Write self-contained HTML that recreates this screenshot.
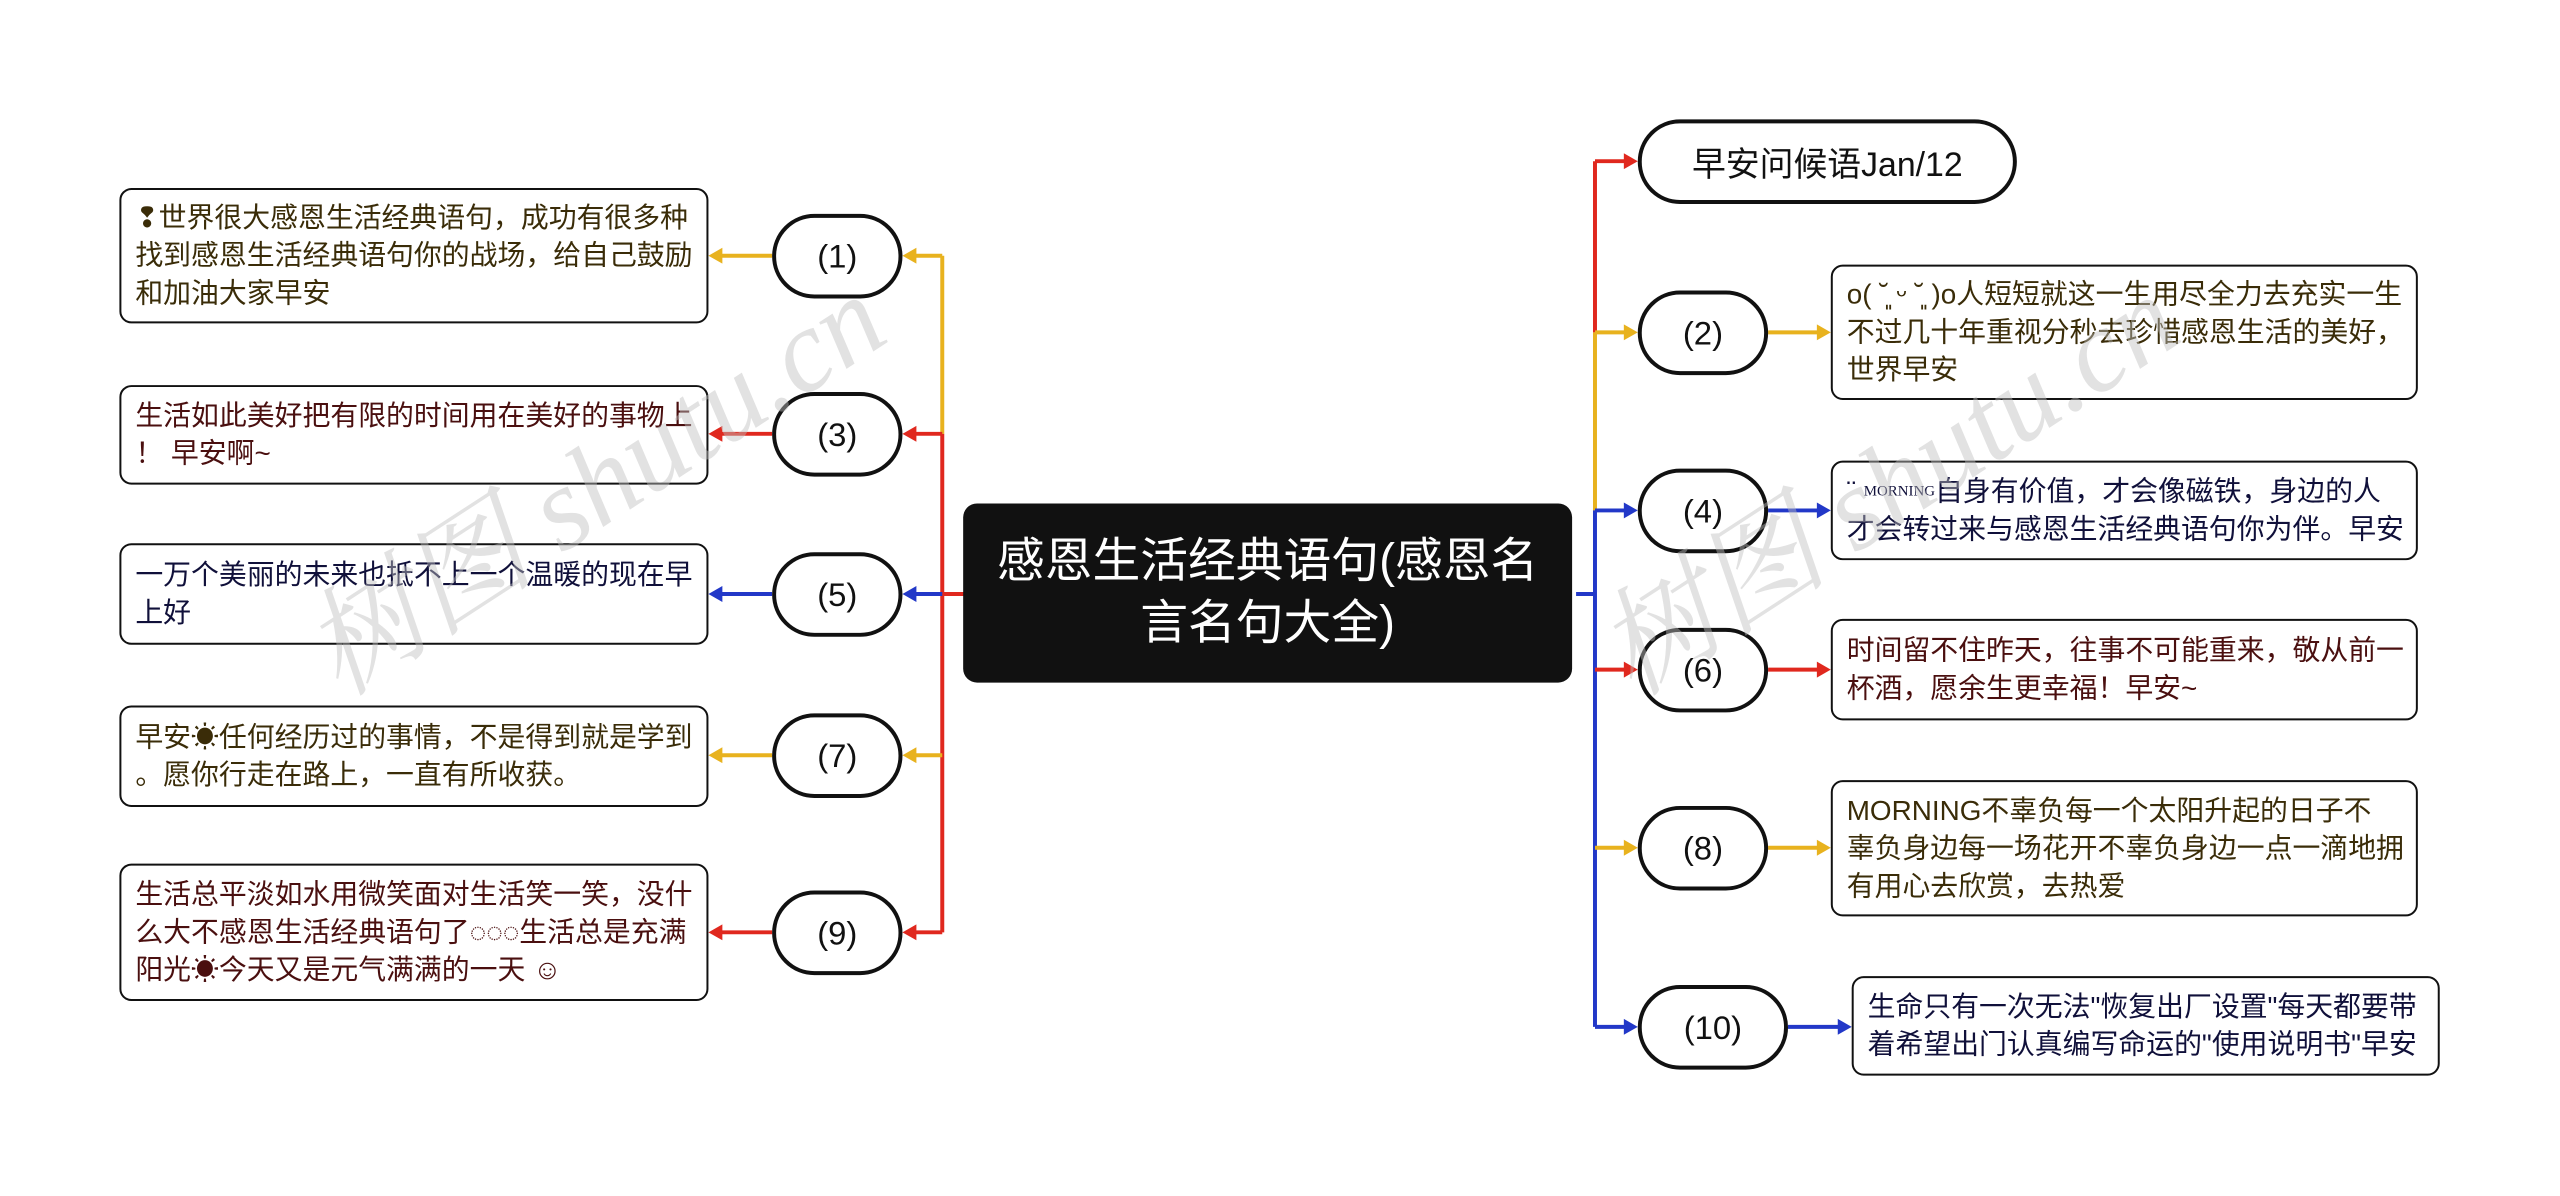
<!DOCTYPE html>
<html><head><meta charset="utf-8"><style>
body{margin:0;width:2560px;height:1196px;background:#fff;position:relative;overflow:hidden;font-family:"Liberation Sans","Noto Sans CJK SC",sans-serif}
#w{position:absolute;left:0;top:0;width:2560px;height:1196px;transform:scale(0.995);transform-origin:0 0}
.b{position:absolute;box-sizing:border-box;border:2.5px solid #111;border-radius:12px;background:#fff;font-size:28px;line-height:38px;padding:0 14px;display:flex;flex-direction:column;justify-content:center;white-space:nowrap}
.c{position:absolute;box-sizing:border-box;border:4px solid #111;border-radius:44px;background:#fff;font-size:33px;display:flex;align-items:center;justify-content:center;color:#111}
.y{color:#3a2c08}.r{color:#4a0f0f}.u{color:#10103a}
.wm{position:absolute;font-family:"Liberation Serif","Noto Serif CJK SC",serif;font-style:italic;font-size:118px;color:rgba(190,190,190,0.45);transform:rotate(-33deg);transform-origin:left bottom;white-space:nowrap}
</style></head><body><div id="w">
<svg width="2560" height="1196" style="position:absolute;left:0;top:0">
<g fill="none" stroke-width="4">
<path d="M970 597H947" stroke="#e0281e"/>
<path d="M947 257V436" stroke="#e8b21e"/>
<path d="M947 436V937" stroke="#e0281e"/>
<path d="M947 257H915M776 257H722" stroke="#e8b21e"/>
<path d="M947 436H915M776 436H722" stroke="#e0281e"/>
<path d="M947 597H915M776 597H722" stroke="#2238c8"/>
<path d="M947 759H915M776 759H722" stroke="#e8b21e"/>
<path d="M947 937H915M776 937H722" stroke="#e0281e"/>
<path d="M1584 597H1603" stroke="#2238c8"/>
<path d="M1603 162V334" stroke="#e0281e"/>
<path d="M1603 334V513" stroke="#e8b21e"/>
<path d="M1603 513V1032" stroke="#2238c8"/>
<path d="M1603 162H1638" stroke="#e0281e"/>
<path d="M1603 334H1638M1777 334H1832" stroke="#e8b21e"/>
<path d="M1603 513H1638M1777 513H1832" stroke="#2238c8"/>
<path d="M1603 673H1638M1777 673H1832" stroke="#e0281e"/>
<path d="M1603 852H1638M1777 852H1832" stroke="#e8b21e"/>
<path d="M1603 1032H1638M1797 1032H1853" stroke="#2238c8"/>
</g>
<g>
<path d="M907 257l14-8v16zM712 257l14-8v16z" fill="#e8b21e"/>
<path d="M907 436l14-8v16zM712 436l14-8v16z" fill="#e0281e"/>
<path d="M907 597l14-8v16zM712 597l14-8v16z" fill="#2238c8"/>
<path d="M907 759l14-8v16zM712 759l14-8v16z" fill="#e8b21e"/>
<path d="M907 937l14-8v16zM712 937l14-8v16z" fill="#e0281e"/>
<path d="M1646 162l-14-8v16z" fill="#e0281e"/>
<path d="M1646 334l-14-8v16zM1840 334l-14-8v16z" fill="#e8b21e"/>
<path d="M1646 513l-14-8v16zM1840 513l-14-8v16z" fill="#2238c8"/>
<path d="M1646 673l-14-8v16zM1840 673l-14-8v16z" fill="#e0281e"/>
<path d="M1646 852l-14-8v16zM1840 852l-14-8v16z" fill="#e8b21e"/>
<path d="M1646 1032l-14-8v16zM1861 1032l-14-8v16z" fill="#2238c8"/>
</g>
</svg>

<div style="position:absolute;left:968px;top:506px;width:612px;height:180px;background:#111;border-radius:14px;color:#fff;font-size:48px;line-height:62px;display:flex;flex-direction:column;align-items:center;justify-content:center">
<div>感恩生活经典语句(感恩名</div><div>言名句大全)</div></div>

<div class="b y" style="left:120px;top:189px;width:592px;height:136px"><div>❢世界很大感恩生活经典语句，成功有很多种</div><div>找到感恩生活经典语句你的战场，给自己鼓励</div><div>和加油大家早安</div></div>
<div class="b r" style="left:120px;top:387px;width:592px;height:100px"><div>生活如此美好把有限的时间用在美好的事物上</div><div>！ 早安啊~</div></div>
<div class="b u" style="left:120px;top:546px;width:592px;height:102px"><div>一万个美丽的未来也抵不上一个温暖的现在早</div><div>上好</div></div>
<div class="b y" style="left:120px;top:709px;width:592px;height:102px"><div>早安☀任何经历过的事情，不是得到就是学到</div><div>。愿你行走在路上，一直有所收获。</div></div>
<div class="b r" style="left:120px;top:868px;width:592px;height:138px"><div>生活总平淡如水用微笑面对生活笑一笑，没什</div><div>么大不感恩生活经典语句了◌◌◌生活总是充满</div><div>阳光☀今天又是元气满满的一天 ☺</div></div>

<div class="c" style="left:776px;top:215px;width:131px;height:85px">(1)</div>
<div class="c" style="left:776px;top:394px;width:131px;height:85px">(3)</div>
<div class="c" style="left:776px;top:555px;width:131px;height:85px">(5)</div>
<div class="c" style="left:776px;top:717px;width:131px;height:85px">(7)</div>
<div class="c" style="left:776px;top:895px;width:131px;height:85px">(9)</div>

<div class="c" style="left:1646px;top:120px;width:381px;height:85px;font-size:34px">早安问候语Jan/12</div>
<div class="c" style="left:1646px;top:292px;width:131px;height:85px">(2)</div>
<div class="c" style="left:1646px;top:471px;width:131px;height:85px">(4)</div>
<div class="c" style="left:1646px;top:631px;width:131px;height:85px">(6)</div>
<div class="c" style="left:1646px;top:810px;width:131px;height:85px">(8)</div>
<div class="c" style="left:1646px;top:990px;width:151px;height:85px">(10)</div>

<div class="b y" style="left:1840px;top:266px;width:590px;height:136px"><div>o( ˘͈ ᵕ ˘͈ )o人短短就这一生用尽全力去充实一生</div><div>不过几十年重视分秒去珍惜感恩生活的美好，</div><div>世界早安</div></div>
<div class="b u" style="left:1840px;top:463px;width:590px;height:100px"><div>¨ <span style="font-family:'Liberation Serif',serif;font-size:15px;vertical-align:top">MORNING</span>自身有价值，才会像磁铁，身边的人</div><div>才会转过来与感恩生活经典语句你为伴。早安</div></div>
<div class="b r" style="left:1840px;top:622px;width:590px;height:102px"><div>时间留不住昨天，往事不可能重来，敬从前一</div><div>杯酒，愿余生更幸福！早安~</div></div>
<div class="b y" style="left:1840px;top:784px;width:590px;height:137px"><div>MORNING不辜负每一个太阳升起的日子不</div><div>辜负身边每一场花开不辜负身边一点一滴地拥</div><div>有用心去欣赏，去热爱</div></div>
<div class="b u" style="left:1861px;top:981px;width:591px;height:100px"><div>生命只有一次无法"恢复出厂设置"每天都要带</div><div>着希望出门认真编写命运的"使用说明书"早安</div></div>

<div class="wm" style="left:360px;top:560px">树图 shutu.cn</div>
<div class="wm" style="left:1660px;top:560px">树图 shutu.cn</div>
</div></body></html>
